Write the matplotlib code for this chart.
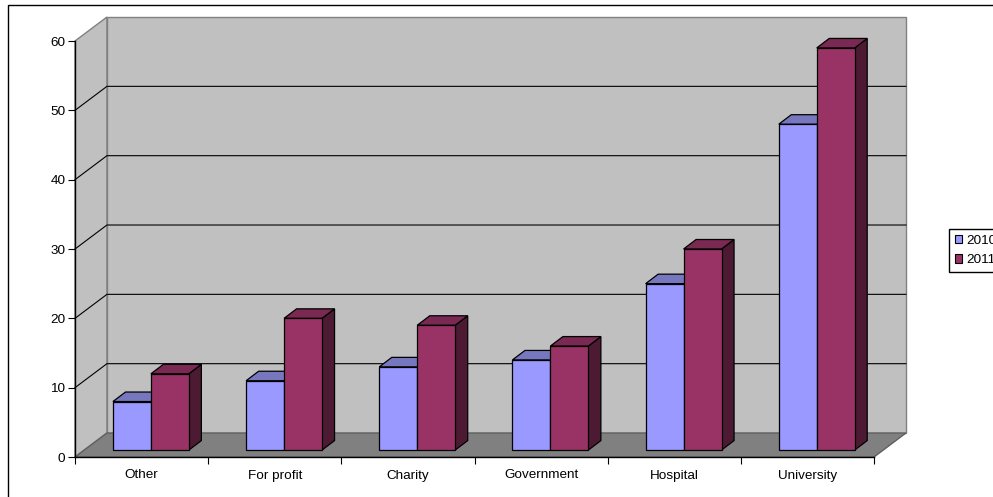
"""
Colunas 3D falsas: paredes, piso e barras desenhados como poligonos
em coordenadas de dados.
"""

import matplotlib.pyplot as plt
from matplotlib.patches import Patch, Rectangle

categorias = ["Other", "For profit", "Charity", "Government", "Hospital", "University"]
serie_2010 = [7, 10, 12, 13, 24, 47]
serie_2011 = [11, 19, 18, 15, 29, 58]
anos = ["2010", "2011"]
ticks_y = [0, 10, 20, 30, 40, 50, 60]

# --- CONFIGURACOES ---
YMAX = 60
# profundidade da caixa e das barras (unidades de x e y)
DX, DY = 0.24, 3.46
BAR_DX, BAR_DY = 0.094, 1.37
BAR_W = 0.285
BAR_X0, BAR_Y0 = 0.285, 1.0
FONTE = 9.7

AZUL = ("#9999FF", "#7777BF", "#4D4D80")
VINHO = ("#993366", "#7A2952", "#4D1A33")

plt.rcParams["font.family"] = ["Liberation Sans", "DejaVu Sans"]

fig = plt.figure(figsize=(9.93, 4.97), dpi=100)
ax = fig.add_axes([75 / 993, 1 - 457 / 497, 799 / 993, 416 / 497])
ax.set_xlim(0, len(categorias))
ax.set_ylim(0, YMAX)
n = len(categorias)

# moldura externa: passa da borda direita e da inferior
fig.add_artist(Rectangle((7.5 / 993, -0.1), 1.02, 1.1 - 5 / 497, transform=fig.transFigure,
                         facecolor="white", edgecolor="black", lw=1, zorder=-5))
ax.patch.set_visible(False)

# paredes e piso
ax.fill([0, DX, DX, 0], [0, DY, YMAX + DY, YMAX], fc="#C0C0C0", ec="#808080", lw=1, clip_on=False, zorder=1)
ax.fill([DX, n + DX, n + DX, DX], [DY, DY, YMAX + DY, YMAX + DY], fc="#C0C0C0", ec="#808080", lw=1, clip_on=False, zorder=1)
ax.fill([0, n, n + DX, DX], [0, 0, DY, DY], fc="#808080", ec="#606060", lw=1, clip_on=False, zorder=1)

# grade
for v in ticks_y[1:-1]:
    ax.plot([0, DX, n + DX], [v, v + DY, v + DY], color="black", lw=0.8, clip_on=False, zorder=2)


def barra(x, h, cores):
    base = BAR_Y0
    topo = base + h
    # lateral, topo e frente
    ax.fill([x + BAR_W, x + BAR_W + BAR_DX, x + BAR_W + BAR_DX, x + BAR_W],
            [base, base + BAR_DY, topo + BAR_DY, topo],
            fc=cores[2], ec="black", lw=0.9, clip_on=False, zorder=3)
    ax.fill([x, x + BAR_DX, x + BAR_W + BAR_DX, x + BAR_W],
            [topo, topo + BAR_DY, topo + BAR_DY, topo],
            fc=cores[1], ec="black", lw=0.9, clip_on=False, zorder=3)
    ax.fill([x, x + BAR_W, x + BAR_W, x], [base, base, topo, topo],
            fc=cores[0], ec="black", lw=0.9, clip_on=False, zorder=3)


for i in range(n):
    barra(i + BAR_X0, serie_2010[i], AZUL)
    barra(i + BAR_X0 + BAR_W, serie_2011[i], VINHO)

# eixos
for lado in ["top", "right"]:
    ax.spines[lado].set_visible(False)
for lado in ["left", "bottom"]:
    ax.spines[lado].set_linewidth(1)
    ax.spines[lado].set_zorder(4)
ax.set_yticks(ticks_y)
ax.set_xticks(range(n + 1))
ax.set_xticklabels([])
ax.set_xticks([i + 0.5 for i in range(n)], categorias, minor=True)
ax.tick_params(axis="x", which="minor", length=0, labelsize=FONTE, pad=9)
ax.tick_params(axis="x", which="major", length=5, direction="out", width=0.8)
ax.tick_params(axis="y", length=5, direction="out", width=0.8, labelsize=FONTE, pad=2)

# legenda cortada pela borda direita, como no original
handles = [Patch(fc=AZUL[0], ec="black", lw=0.8), Patch(fc=VINHO[0], ec="black", lw=0.8)]
fig.legend(handles, anos, loc="upper left", bbox_to_anchor=(949 / 993, 1 - 229 / 497),
           frameon=True, fancybox=False, framealpha=1, edgecolor="black", fontsize=FONTE,
           handlelength=0.58, handleheight=0.58, handletextpad=0.25, labelspacing=0.55,
           borderpad=0.42, borderaxespad=0)

fig.savefig("out.png", dpi=100)
